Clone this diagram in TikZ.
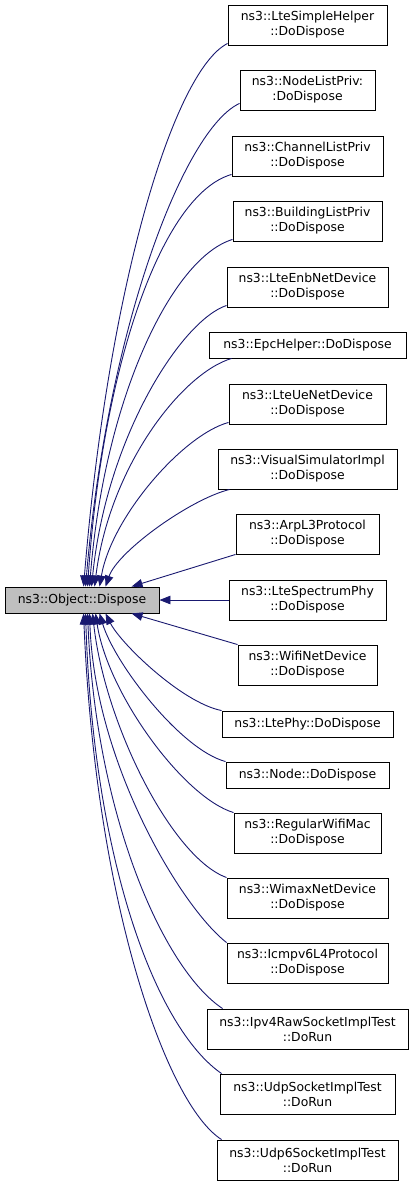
\documentclass[tikz,border=0pt]{standalone}
\usepackage{fontspec}
\setmainfont{DejaVu Sans}
\usetikzlibrary{arrows.meta}
\definecolor{edgeblue}{HTML}{191970}
\definecolor{maingray}{HTML}{BFBFBF}
\tikzset{
  box/.style={draw=black, line width=0.9pt, fill=white, inner sep=0pt, align=center,
    font=\fontsize{12.4}{15}\selectfont, minimum height=40pt},
  onebox/.style={box, minimum height=26pt},
  edge/.style={draw=edgeblue, line width=0.9pt, -{Triangle[length=11pt,width=8.5pt]}}
}
\begin{document}
\begin{tikzpicture}[x=1pt,y=-1pt]
\useasboundingbox (0,0) rectangle (413,1185);
\node[onebox, fill=maingray, minimum width=154pt] (m) at (82,600) {ns3::Object::Dispose};
\node[box, minimum width=159pt] (b1) at (307.5,25) {ns3::LteSimpleHelper\\::DoDispose};
\node[box, minimum width=135pt] (b2) at (307.5,90) {ns3::NodeListPriv:\\:DoDispose};
\node[box, minimum width=151pt] (b3) at (307.5,156) {ns3::ChannelListPriv\\::DoDispose};
\node[box, minimum width=149pt] (b4) at (307.5,221) {ns3::BuildingListPriv\\::DoDispose};
\node[box, minimum width=161pt] (b5) at (307.5,287) {ns3::LteEnbNetDevice\\::DoDispose};
\node[onebox, minimum width=197pt] (b6) at (307.5,345) {ns3::EpcHelper::DoDispose};
\node[box, minimum width=157pt] (b7) at (307.5,404) {ns3::LteUeNetDevice\\::DoDispose};
\node[box, minimum width=179pt] (b8) at (307.5,469) {ns3::VisualSimulatorImpl\\::DoDispose};
\node[box, minimum width=143pt] (b9) at (307.5,534) {ns3::ArpL3Protocol\\::DoDispose};
\node[box, minimum width=157pt] (b10) at (307.5,600) {ns3::LteSpectrumPhy\\::DoDispose};
\node[box, minimum width=139pt] (b11) at (307.5,665) {ns3::WifiNetDevice\\::DoDispose};
\node[onebox, minimum width=171pt] (b12) at (307.5,724) {ns3::LtePhy::DoDispose};
\node[onebox, minimum width=163pt] (b13) at (307.5,775) {ns3::Node::DoDispose};
\node[box, minimum width=147pt] (b14) at (307.5,833) {ns3::RegularWifiMac\\::DoDispose};
\node[box, minimum width=161pt] (b15) at (307.5,898) {ns3::WimaxNetDevice\\::DoDispose};
\node[box, minimum width=161pt] (b16) at (307.5,963) {ns3::Icmpv6L4Protocol\\::DoDispose};
\node[box, minimum width=201pt] (b17) at (307.5,1029) {ns3::Ipv4RawSocketImplTest\\::DoRun};
\node[box, minimum width=175pt] (b18) at (307.5,1094) {ns3::UdpSocketImplTest\\::DoRun};
\node[box, minimum width=181pt] (b19) at (307.5,1160) {ns3::Udp6SocketImplTest\\::DoRun};
% upper edges
\draw[edge] ([yshift=2pt]b1.south west) .. controls +(-53,27) and +(25,-305) .. ([xshift=79pt]m.north west);
\draw[edge] ([yshift=7pt]b2.south west) .. controls +(-55,25) and +(22,-260) .. ([xshift=81pt]m.north west);
\draw[edge] ([yshift=2pt]b3.south west) .. controls +(-70,20) and +(15,-220) .. ([xshift=83pt]m.north west);
\draw[edge] ([yshift=2pt]b4.south west) .. controls +(-60,18) and +(15,-190) .. ([xshift=85pt]m.north west);
\draw[edge] ([yshift=2pt]b5.south west) .. controls +(-45,15) and +(15,-150) .. ([xshift=87pt]m.north west);
\draw[edge] ([xshift=23pt]b6.south west) .. controls +(-50,15) and +(15,-120) .. ([xshift=90pt]m.north west);
\draw[edge] ([yshift=2pt]b7.south west) .. controls +(-45,12) and +(12,-70) .. ([xshift=95pt]m.north west);
\draw[edge] ([xshift=12pt]b8.south west) .. controls +(-40,10) and +(12,-35) .. ([xshift=101pt]m.north west);
\draw[edge] (b9.south west) -- ([xshift=127pt]m.north west);
\draw[edge] (b10.west) -- (m.east);
% lower edges
\draw[edge] (b11.north west) -- ([xshift=127pt]m.south west);
\draw[edge] (b12.north west) .. controls +(-40,-8) and +(15,30) .. ([xshift=101pt]m.south west);
\draw[edge] (b13.north west) .. controls +(-45,-12) and +(15,50) .. ([xshift=95pt]m.south west);
\draw[edge] (b14.north west) .. controls +(-50,-15) and +(12,80) .. ([xshift=91pt]m.south west);
\draw[edge] (b15.north west) .. controls +(-55,-20) and +(12,110) .. ([xshift=88pt]m.south west);
\draw[edge] (b16.north west) .. controls +(-45,-35) and +(5,150) .. ([xshift=85pt]m.south west);
\draw[edge] ([xshift=16pt]b17.north west) .. controls +(-60,-40) and +(8,200) .. ([xshift=83pt]m.south west);
\draw[edge] ([xshift=2pt]b18.north west) .. controls +(-65,-45) and +(8,250) .. ([xshift=81pt]m.south west);
\draw[edge] ([xshift=5pt]b19.north west) .. controls +(-55,-35) and +(12,290) .. ([xshift=79pt]m.south west);
\end{tikzpicture}
\end{document}
